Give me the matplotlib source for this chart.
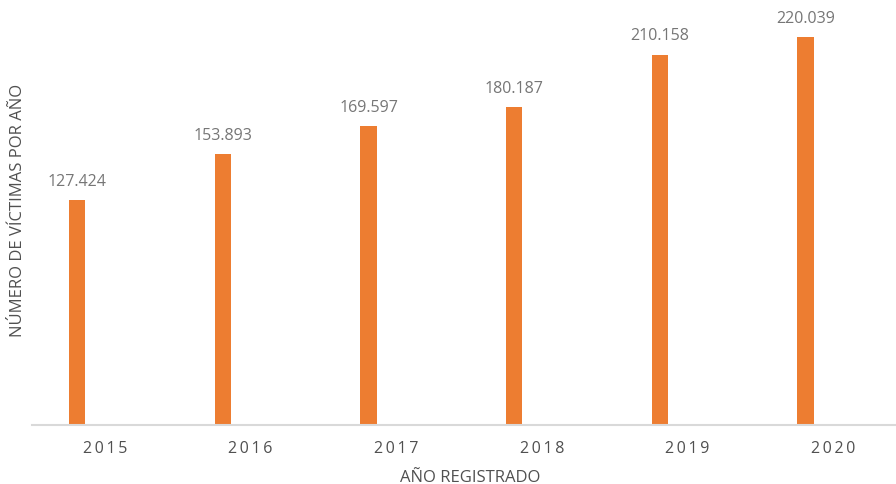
import matplotlib
matplotlib.use("Agg")
import matplotlib.pyplot as plt
import numpy as np

years = ["2015", "2016", "2017", "2018", "2019", "2020"]
victims = [127.424, 153.893, 169.597, 180.187, 210.158, 220.039]
value_labels = ["127.424", "153.893", "169.597", "180.187", "210.158", "220.039"]

plt.rcParams['font.family'] = ['Open Sans', 'DejaVu Sans']

W, H = 896, 485
fig = plt.figure(figsize=(W / 100, H / 100), dpi=100)
left, right, bottom, top = 32 / W, 906 / W, (H - 426) / H, (H - 3) / H
ax = fig.add_axes([left, bottom, right - left, top - bottom])

x = np.arange(len(years))
bar_w = 0.11
offset = -0.19
bars = ax.bar(x + offset, victims, width=bar_w, color="#ED7D31", zorder=2)

for xi, v, lab in zip(x, victims, value_labels):
    ax.annotate(lab, (xi + offset, v), xytext=(0, 8), textcoords="offset points",
                ha="center", va="bottom", fontsize=11.5, color="#767676")

ax.set_xlim(-0.5, len(years) - 0.5)
ax.set_ylim(0, 240)
ax.set_xticks(x)
ax.set_xticklabels(["\u2009".join(y) for y in years], fontsize=11.5, color="#505050")
ax.tick_params(axis="x", length=0, pad=11)
ax.set_yticks([])
for s in ["top", "right", "left"]:
    ax.spines[s].set_visible(False)
ax.spines["bottom"].set_color("#D9D9D9")
ax.spines["bottom"].set_linewidth(1.5)

fig.text(470 / W, 1 - 478 / H, "AÑO REGISTRADO", ha="center", va="center",
         fontsize=12, color="#505050")
fig.text(18 / W, 1 - 210 / H, "NÚMERO DE VÍCTIMAS POR AÑO", ha="center", va="center",
         rotation=90, fontsize=12, color="#505050")

fig.savefig("out.png", dpi=100)
